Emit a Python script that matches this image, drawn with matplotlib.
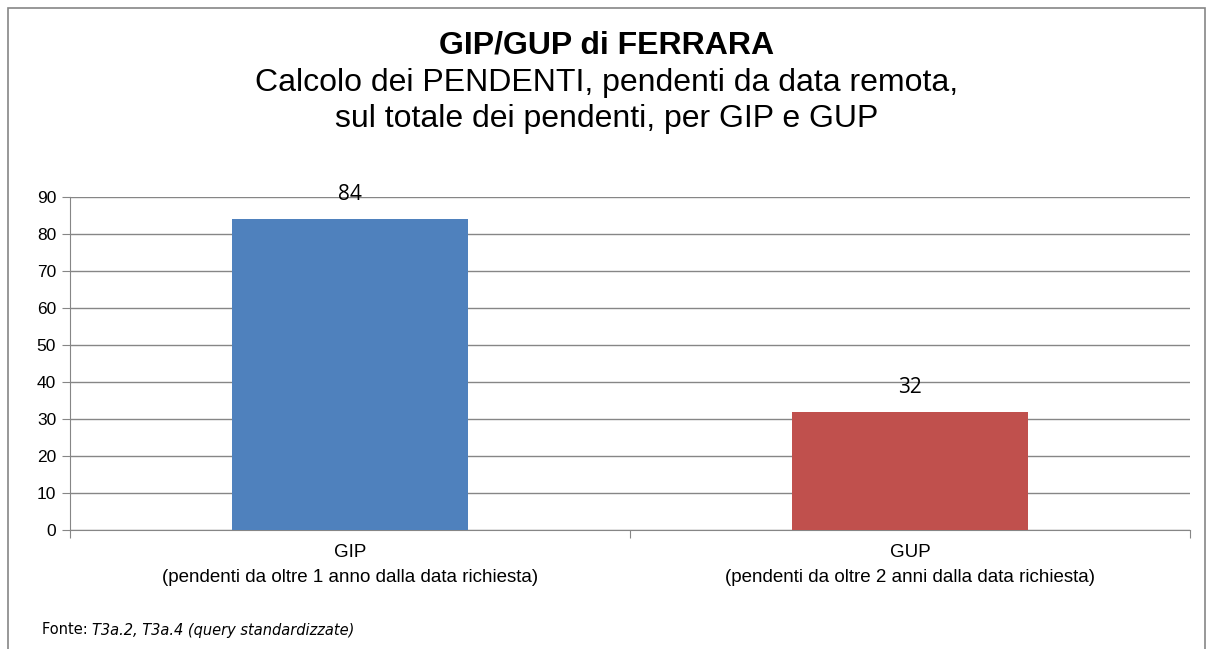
import matplotlib.pyplot as plt
from matplotlib.patches import Rectangle

categories = ['GIP\n(pendenti da oltre 1 anno dalla data richiesta)',
              'GUP\n(pendenti da oltre 2 anni dalla data richiesta)']
values = [84, 32]
colors = ['#4F81BD', '#C0504D']
yticks = list(range(0, 91, 10))

W, H = 1213, 649
fig = plt.figure(figsize=(W / 100, H / 100), dpi=100)
plt.rcParams['font.family'] = ['Liberation Sans', 'DejaVu Sans']

# cornice del grafico
fig.patches.append(Rectangle((8 / W, -0.05), (1205 - 8) / W, 1.05 - 8 / H,
                             transform=fig.transFigure, fill=False,
                             edgecolor='#868686', linewidth=1.2))

ax = fig.add_axes([70 / W, 1 - 530 / H, (1190 - 70) / W, (530 - 197) / H])
x = [0.5, 1.5]
ax.bar(x, values, width=0.42, color=colors, zorder=3)
ax.set_xlim(0, 2)
ax.set_ylim(0, 90)
ax.set_yticks(yticks)
ax.set_yticklabels([str(v) for v in yticks], fontsize=12.5)
ax.set_xticks([0, 1, 2])
ax.set_xticklabels([])
ax.set_xticks(x, minor=True)
ax.set_xticklabels(categories, minor=True, fontsize=13.5, linespacing=1.6)
ax.tick_params(axis='x', which='minor', length=0, pad=10)
ax.tick_params(axis='x', which='major', length=6, color='#868686', direction='out')
ax.tick_params(axis='y', length=6, color='#868686', direction='out', pad=4)
ax.grid(axis='y', color='#868686', linewidth=1, zorder=0)
for s in ['top', 'right']:
    ax.spines[s].set_visible(False)
for s in ['left', 'bottom']:
    ax.spines[s].set_color('#868686')

for xi, v in zip(x, values):
    ax.text(xi, v + 6.6, str(v), ha='center', va='center', fontsize=15,
            family=['Open Sans', 'DejaVu Sans'])

fig.text(0.5, 1 - 46 / H, 'GIP/GUP di FERRARA', ha='center', va='center',
         fontsize=23, fontweight='bold')
fig.text(0.5, 1 - 83 / H, 'Calcolo dei PENDENTI, pendenti da data remota,',
         ha='center', va='center', fontsize=23)
fig.text(0.5, 1 - 119 / H, 'sul totale dei pendenti, per GIP e GUP',
         ha='center', va='center', fontsize=23)

# fonte: parte normale + parte corsiva
fy = 1 - 630 / H
t1 = fig.text(42 / W, fy, 'Fonte: ', ha='left', va='center', fontsize=10.5,
              family='DejaVu Sans')
fig.canvas.draw()
bb = t1.get_window_extent()
fig.text(bb.x1 / W, fy, 'T3a.2, T3a.4 (query standardizzate)', ha='left',
         va='center', fontsize=10.5, style='italic', family='DejaVu Sans')

fig.savefig('out.png', dpi=100)
